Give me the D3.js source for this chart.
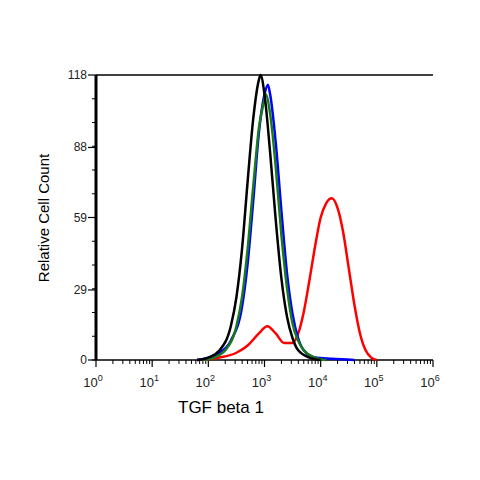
<!DOCTYPE html>
<html><head><meta charset="utf-8">
<script src="https://cdn.jsdelivr.net/npm/d3@7"></script>
<style>body{margin:0;background:#fff}text{font-family:"Liberation Sans",Arial,sans-serif}</style>
</head><body><div id="chart"></div>
<script>
const width = 480, height = 480;
const yTicks = [0, 29, 59, 88, 118];
const xDecades = [0, 1, 2, 3, 4, 5, 6];

// log10 intensity vs. count
const blackX = [1.8, 2.0, 2.2, 2.4, 2.5, 2.6, 2.7, 2.8, 2.9, 2.93, 3.0, 3.1, 3.2, 3.3, 3.4, 3.5, 3.6, 3.8, 4.0];
const blackY = [0, 1, 4, 14, 26, 46, 74, 100, 116, 118, 110, 86, 58, 34, 18, 9, 4, 1, 0];
const greenX = [1.9, 2.1, 2.3, 2.5, 2.6, 2.7, 2.8, 2.9, 3.0, 3.02, 3.1, 3.2, 3.3, 3.4, 3.5, 3.6, 3.7, 3.9, 4.1];
const greenY = [0, 1, 4, 14, 26, 46, 72, 96, 108, 110, 102, 80, 52, 30, 15, 8, 4, 1, 0];
const blueX = [1.8, 2.0, 2.2, 2.4, 2.6, 2.7, 2.8, 2.9, 3.0, 3.06, 3.1, 3.2, 3.3, 3.4, 3.5, 3.6, 3.7, 3.9, 4.2, 4.6];
const blueY = [0, 1, 3, 8, 22, 40, 66, 94, 110, 114, 110, 90, 62, 36, 19, 9, 4, 1, 0.5, 0];
const redX = [1.8, 2.2, 2.5, 2.7, 2.9, 3.05, 3.2, 3.35, 3.5, 3.6, 3.7, 3.8, 3.9, 4.0, 4.1, 4.2, 4.3, 4.4, 4.5, 4.6, 4.7, 4.8, 4.9, 5.0];
const redY = [0, 1, 3, 6, 11, 14, 11, 7, 7, 11, 20, 33, 47, 59, 65, 67, 63, 53, 38, 23, 11, 4, 1, 0];

const series = [
  { xs: redX, ys: redY, color: "#ff0000" },
  { xs: blueX, ys: blueY, color: "#0000ff" },
  { xs: greenX, ys: greenY, color: "#1a7a1a" },
  { xs: blackX, ys: blackY, color: "#000000" }
];

const m = { left: 96, right: 47, top: 75, bottom: 120 };
const svg = d3.select("#chart").append("svg").attr("width", width).attr("height", height);

const x = d3.scaleLinear().domain([0, 6]).range([m.left, width - m.right]);
const y = d3.scaleLinear().domain([0, 118]).range([height - m.bottom, m.top]);

// top border
svg.append("line").attr("x1", x(0)).attr("x2", x(6)).attr("y1", y(118)).attr("y2", y(118))
  .attr("stroke", "#000").attr("stroke-width", 1.5);

// x axis with log minor ticks
const xg = svg.append("g");
xg.append("line").attr("x1", x(0)).attr("x2", x(6)).attr("y1", y(0)).attr("y2", y(0)).attr("stroke", "#000").attr("stroke-width", 1.5);
const minors = [];
for (let d = 0; d < 6; d++) for (let k = 2; k <= 9; k++) minors.push(d + Math.log10(k));
xg.selectAll(".mn").data(minors).enter().append("line")
  .attr("x1", d => x(d)).attr("x2", d => x(d)).attr("y1", y(0)).attr("y2", y(0) + 4)
  .attr("stroke", "#000").attr("stroke-width", 1);
xg.selectAll(".mj").data(xDecades).enter().append("line")
  .attr("x1", d => x(d)).attr("x2", d => x(d)).attr("y1", y(0)).attr("y2", y(0) + 7)
  .attr("stroke", "#000").attr("stroke-width", 1.2);
const xl = xg.selectAll(".lb").data(xDecades).enter().append("text")
  .attr("x", d => x(d) - 3).attr("y", y(0) + 27).attr("text-anchor", "middle")
  .attr("font-size", 13).attr("fill", "#222");
xl.append("tspan").text("10");
xl.append("tspan").attr("dy", -6).attr("font-size", 9).text(d => d);

// y axis
const yg = svg.append("g");
yg.append("line").attr("x1", x(0)).attr("x2", x(0)).attr("y1", y(0)).attr("y2", y(118)).attr("stroke", "#000").attr("stroke-width", 3);
const yMin = d3.range(0, 118, 118 / 12);
yg.selectAll(".ym").data(yMin).enter().append("line")
  .attr("x1", x(0) - 4).attr("x2", x(0)).attr("y1", d => y(d)).attr("y2", d => y(d)).attr("stroke", "#000");
yg.selectAll(".yt").data(yTicks).enter().append("line")
  .attr("x1", x(0) - 8).attr("x2", x(0)).attr("y1", d => y(d)).attr("y2", d => y(d)).attr("stroke", "#000").attr("stroke-width", 1.2);
yg.selectAll(".yl").data(yTicks).enter().append("text")
  .attr("x", x(0) - 9).attr("y", d => y(d) + 4).attr("text-anchor", "end")
  .attr("font-size", 12).attr("fill", "#222").text(d => d);

// curves
const line = d3.line().x(d => x(d[0])).y(d => y(d[1])).curve(d3.curveMonotoneX);
series.forEach(s => {
  svg.append("path").datum(s.xs.map((v, i) => [v, s.ys[i]]))
    .attr("d", line).attr("fill", "none").attr("stroke", s.color).attr("stroke-width", 2.5);
});

// titles
svg.append("text").attr("x", 221).attr("y", 413).attr("text-anchor", "middle")
  .attr("font-size", 17).attr("fill", "#000").text("TGF beta 1");
svg.append("text").attr("transform", "translate(49,218) rotate(-90)").attr("text-anchor", "middle")
  .attr("font-size", 15).attr("fill", "#000").text("Relative Cell Count");
</script></body></html>
